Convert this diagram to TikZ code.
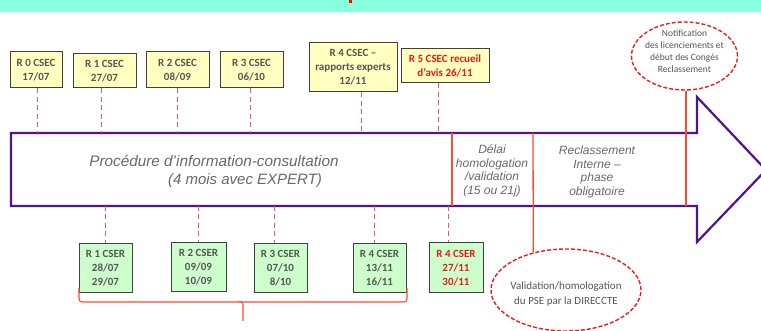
\documentclass[tikz,border=0pt]{standalone}
\usepackage{fontspec}
\setmainfont{Carlito}
\newfontfamily\arialf{Liberation Sans}
\usetikzlibrary{shapes.geometric}
\definecolor{band}{RGB}{136,255,221}
\definecolor{boxyel}{RGB}{255,255,192}
\definecolor{boxgrn}{RGB}{204,255,204}
\definecolor{purp}{RGB}{78,22,140}
\definecolor{dashred}{RGB}{240,90,80}
\definecolor{solred}{RGB}{255,75,45}
\definecolor{txtgray}{RGB}{85,85,85}
\definecolor{itgray}{RGB}{105,105,105}
\definecolor{elred}{RGB}{235,30,30}
\definecolor{redtxt}{RGB}{235,25,25}
\tikzset{
  ybox/.style={draw=black!75, fill=boxyel, line width=1pt, font=\fontsize{11}{14}\selectfont\bfseries, text=txtgray, align=center, inner sep=0pt},
  gbox/.style={ybox, fill=boxgrn},
  dline/.style={draw=dashred, dash pattern=on 5pt off 3.5pt, line width=1pt},
  sline/.style={draw=solred, line width=1.3pt},
  ell/.style={ellipse, draw=elred, dash pattern=on 4pt off 2pt, line width=1.4pt, inner sep=0pt, fill=white},
  elltxt/.style={align=center, text=txtgray, inner sep=0pt},
  ittxt/.style={font=\arialf\itshape, text=itgray, align=center, inner sep=0pt},
}
\begin{document}
\begin{tikzpicture}[x=1pt,y=-1pt]
\useasboundingbox (0,0) rectangle (761,331);
\fill[white] (0,0) rectangle (761,331);
\fill[band] (0,0) rectangle (761,12);
\fill[red] (349,0) rectangle (352,3);

% big arrow
\draw[purp, line width=2.2pt, line join=miter] (11,133) -- (697,133) -- (697,97) -- (766,170) -- (697,242) -- (697,206) -- (11,206) -- cycle;
\coordinate (atop) at (0,133);
\coordinate (abot) at (0,206);

% top boxes
\node[ybox, minimum width=52, minimum height=36] (r0) at (36,70) {R 0 CSEC\\17/07};
\node[ybox, minimum width=63, minimum height=34] (r1) at (104.5,71) {R 1 CSEC\\27/07};
\node[ybox, minimum width=63, minimum height=36] (r2) at (177.5,70) {R 2 CSEC\\08/09};
\node[ybox, minimum width=63, minimum height=36] (r3) at (251.5,70) {R 3 CSEC\\06/10};
\node[ybox, minimum width=88, minimum height=49] (r4) at (353,67.5) {R 4 CSEC --\\rapports experts\\12/11};
\node[ybox, minimum width=88, minimum height=34, text=redtxt] (r5) at (445,66) {R 5 CSEC recueil\\d'avis 26/11};

\draw[dline] ([xshift=1pt]r0.south) -- ([xshift=1pt]r0.south |- atop);
\draw[dline] ([xshift=-3.5pt]r1.south) -- ([xshift=-3.5pt]r1.south |- atop);
\draw[dline] (r2.south) -- (r2.south |- atop);
\draw[dline] ([xshift=-1.5pt]r3.south) -- ([xshift=-1.5pt]r3.south |- atop);
\draw[dline] ([xshift=8pt]r4.south) -- ([xshift=8pt]r4.south |- atop);
\draw[dline] ([xshift=-7pt]r5.south) -- ([xshift=-7pt]r5.south |- atop);

% bottom boxes
\node[gbox, minimum width=53, minimum height=49] (c1) at (105.5,268.5) {R 1 CSER\\28/07\\29/07};
\node[gbox, minimum width=55, minimum height=49] (c2) at (198.5,267.5) {R 2 CSER\\09/09\\10/09};
\node[gbox, minimum width=53, minimum height=49] (c3) at (280.5,268.5) {R 3 CSER\\07/10\\8/10};
\node[gbox, minimum width=53, minimum height=49] (c4) at (379.5,268.5) {R 4 CSER\\13/11\\16/11};
\node[gbox, minimum width=54, minimum height=50, text=redtxt] (c5) at (456,268) {R 4 CSER\\27/11\\30/11};

\draw[dline] (c1.north |- abot) -- (c1.north);
\draw[dline] (c2.north |- abot) -- (c2.north);
\draw[dline] ([xshift=-6.5pt]c3.north |- abot) -- ([xshift=-6.5pt]c3.north);
\draw[dline] ([xshift=-5.5pt]c4.north |- abot) -- ([xshift=-5.5pt]c4.north);
\draw[dline] ([xshift=-8pt]c5.north |- abot) -- ([xshift=-8pt]c5.north);

% brace
\coordinate (bl) at (79,288);
\coordinate (br) at (407,288);
\coordinate (bm) at (243,321);
\draw[solred, line width=1.1pt, rounded corners=3pt] (bl) -- (79,302) -- (407,302) -- (br);
\draw[solred, line width=1.1pt] (239,302) .. controls (243,302) .. (243,306) -- (bm);

% ellipses
\node[ell, minimum width=106, minimum height=68] (notif) at (684.5,56) {};
\node[elltxt, font=\fontsize{9.5}{12}\selectfont] (notiftxt) at (684.5,51) {Notification\\des licenciements et\\d\'ebut des Cong\'es\\Reclassement};
\node[ell, minimum width=150, minimum height=82] (valid) at (566,290) {};
\node[elltxt, font=\fontsize{11}{15}\selectfont] (validtxt) at (566,294) {Validation/homologation\\du PSE par la DIRECCTE};

% solid red markers
\coordinate (m1t) at (452,133);
\coordinate (m1b) at (452,206);
\draw[sline] (m1t) -- (m1b);
\coordinate (m2t) at (533,133);
\draw[sline] (m2t) -- (valid.131.7);
\draw[sline] ([xshift=1.5pt]notif.south) -- ([xshift=1.5pt]notif.south |- abot);

% texts in arrow
\node[ittxt, font=\arialf\itshape\fontsize{15.3}{17}\selectfont] (p1) at (214,161) {Proc\'edure d’information-consultation};
\node[ittxt, font=\arialf\itshape\fontsize{15}{17}\selectfont] (p2) at (245,181) {(4 mois avec EXPERT)};
\node[ittxt, font=\arialf\itshape\fontsize{12}{13.5}\selectfont] (delai) at (492,171) {D\'elai\\homologation\\/validation\\(15 ou 21j)};
\node[ittxt, font=\arialf\itshape\fontsize{12}{13.5}\selectfont] (recl) at (597,172) {Reclassement\\Interne \textendash\\phase\\obligatoire};
\end{tikzpicture}
\end{document}
